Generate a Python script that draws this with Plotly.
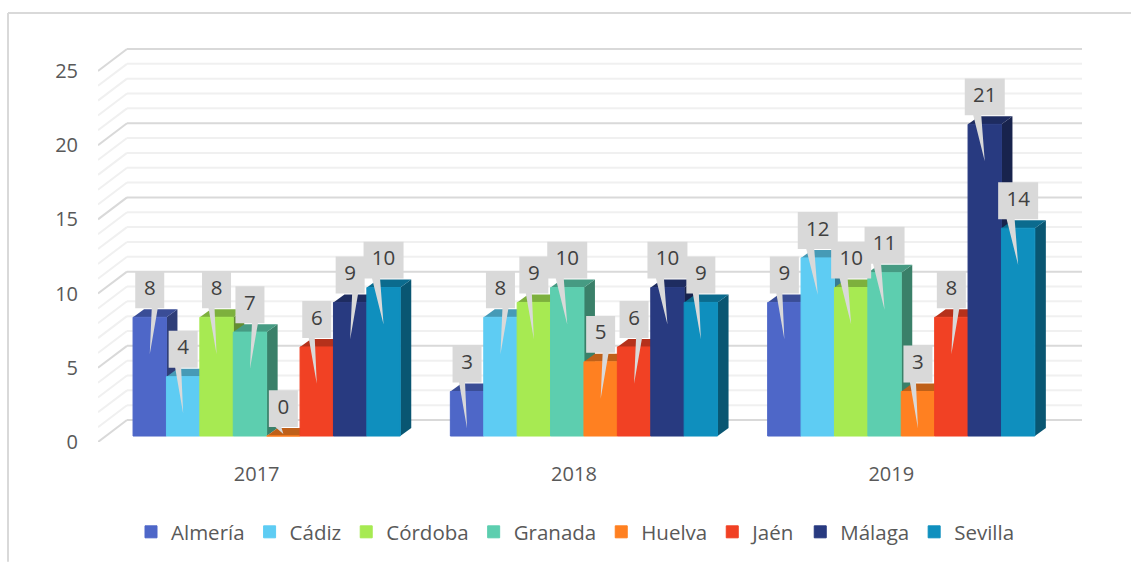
import plotly.graph_objects as go

# ---------- data ----------
years = ["2017", "2018", "2019"]
provinces = ["Almería", "Cádiz", "Córdoba", "Granada", "Huelva", "Jaén", "Málaga", "Sevilla"]
almeria = [8, 3, 9]
cadiz = [4, 8, 12]
cordoba = [8, 9, 10]
granada = [7, 10, 11]
huelva = [0, 5, 3]
jaen = [6, 6, 8]
malaga = [9, 10, 21]
sevilla = [10, 9, 14]
series = [almeria, cadiz, cordoba, granada, huelva, jaen, malaga, sevilla]

# ---------- styles ----------
front = ["#4E67C8", "#5ECCF3", "#A7EA52", "#5DCEAF", "#FF8021", "#F14124", "#283A80", "#0F8FBE"]
top_c = ["#3A4D96", "#469AB6", "#7DB03D", "#469B83", "#BF6019", "#B5311B", "#1E2C60", "#0B6B8E"]
side_c = ["#2F3E78", "#387B92", "#648D31", "#3A8069", "#994D14", "#912716", "#18234D", "#095672"]
# which side of the bar centre each callout pointer leaves its box (one row per year)
pointer_side = [
    [1, -1, -1, 1, -1, -1, 1, -1],
    [-1, 1, -1, -1, 1, 1, -1, -1],
    [-1, -1, -1, -1, -1, 1, -1, -1],
]
FONT = "Open Sans"
TICK = "#595959"
LABEL = "#404040"
BOX = "#D9D9D9"

# ---------- geometry: pixel scales of the two axes ----------
W, H = 1131, 563
LEFT, RIGHT, TOP, BOTTOM = 98, 1082, 44, 443
PX_Y = 14.88      # px per value unit
PX_X = 33.4       # px per bar width
xr = (RIGHT - LEFT) / PX_X
yr = (BOTTOM - TOP) / PX_Y
ux = lambda p: p / PX_X
uy = lambda p: p / PX_Y
WALL_DX, WALL_DY = ux(29), uy(22)
BAR_SHIFT_X, BAR_BASE = ux(10), uy(6)
BAR_DX, BAR_DY = ux(11), uy(8)
GROUP_STEP, GROUP_GAP = 9.5, 0.75

shapes = []


def path(points):
    return "M" + " L".join(f"{a:.4f},{b:.4f}" for a, b in points) + " Z"


# walls: grid lines every unit, heavier every five
for v in range(0, 26):
    major = v % 5 == 0
    col = "#D9D9D9" if major else "#F0F0F0"
    style = dict(type="line", xref="x", yref="y", layer="below", line=dict(color=col, width=2))
    shapes.append(dict(style, x0=0, y0=v, x1=WALL_DX, y1=v + WALL_DY))
    shapes.append(dict(style, x0=WALL_DX, y0=v + WALL_DY, x1=xr, y1=v + WALL_DY))

# chart frame
fx = lambda p: (p - LEFT) / (RIGHT - LEFT)
fy = lambda p: (BOTTOM - p) / (BOTTOM - TOP)
frame = dict(type="line", xref="paper", yref="paper", layer="below", line=dict(color="#D9D9D9", width=2))
shapes.append(dict(frame, x0=fx(8), y0=fy(13), x1=fx(W), y1=fy(13)))
shapes.append(dict(frame, x0=fx(8), y0=fy(13), x1=fx(8), y1=fy(H)))


def bar_left(g, i):
    return g * GROUP_STEP + GROUP_GAP + BAR_SHIFT_X + i


# 3D faces of the bars
for g in range(len(years)):
    for i, vals in enumerate(series):
        xl, xrt = bar_left(g, i), bar_left(g, i) + 1
        b, t = BAR_BASE, BAR_BASE + vals[g]
        shapes.append(dict(type="path", xref="x", yref="y", layer="below", line=dict(width=0),
                           fillcolor=side_c[i],
                           path=path([(xrt, b), (xrt + BAR_DX, b + BAR_DY), (xrt + BAR_DX, t + BAR_DY), (xrt, t)])))
        shapes.append(dict(type="path", xref="x", yref="y", layer="below", line=dict(width=0),
                           fillcolor=top_c[i],
                           path=path([(xl, t), (xl + BAR_DX, t + BAR_DY), (xrt + BAR_DX, t + BAR_DY), (xrt, t)])))

fig = go.Figure()

# front faces
for i, (name, vals) in enumerate(zip(provinces, series)):
    fig.add_trace(go.Bar(
        name=name,
        x=[bar_left(g, i) + 0.5 for g in range(len(years))],
        y=vals,
        base=BAR_BASE,
        width=1,
        marker=dict(color=front[i], line=dict(color=front[i], width=1)),
        hoverinfo="skip",
    ))

# callouts
lab_x, lab_y, lab_t = [], [], []
for g in range(len(years)):
    for i, vals in enumerate(series):
        v = vals[g]
        cx = bar_left(g, i) + 0.5
        t = BAR_BASE + v
        two = v >= 10
        hw = ux(20 if two else 14.5)
        y0, y1 = t + uy(9), t + uy(46)
        s = pointer_side[g][i]
        if s > 0:
            b0, b1 = cx + ux(2), cx + ux(8)
        elif two:
            b0, b1 = cx - ux(11.5), cx - ux(3.5)
        else:
            b0, b1 = cx - ux(8), cx - ux(2)
        tip_y = max(t - uy(37), BAR_BASE + uy(2))
        px = [cx - hw, cx - hw, cx + hw, cx + hw, b1, cx, b0, cx - hw]
        py = [y0, y1, y1, y0, y0, tip_y, y0, y0]
        fig.add_trace(go.Scatter(x=px, y=py, mode="lines", fill="toself", fillcolor=BOX,
                                 line=dict(width=0, color=BOX), showlegend=False, hoverinfo="skip"))
        lab_x.append(cx)
        lab_y.append((y0 + y1) / 2)
        lab_t.append(str(v))

fig.add_trace(go.Scatter(x=lab_x, y=lab_y, text=lab_t, mode="text", textposition="middle center",
                         textfont=dict(family=FONT, size=20.5, color=LABEL), showlegend=False, hoverinfo="skip"))

fig.update_layout(
    width=W, height=H,
    autosize=False,
    margin=dict(l=LEFT, r=W - RIGHT, t=TOP, b=H - BOTTOM, pad=0),
    paper_bgcolor="white",
    plot_bgcolor="white",
    barmode="overlay",
    font=dict(family=FONT, size=20, color=TICK),
    shapes=shapes,
    showlegend=True,
    legend=dict(orientation="h", x=fx(131), xanchor="left", y=fy(532), yanchor="middle",
                font=dict(family=FONT, size=20.5, color=TICK), bgcolor="rgba(0,0,0,0)",
                traceorder="normal", itemclick=False, itemdoubleclick=False),
    xaxis=dict(range=[0, xr], showgrid=False, zeroline=False, showline=False, ticks="",
               tickmode="array",
               tickvals=[(g + 0.5) * GROUP_STEP for g in range(len(years))],
               ticktext=years, tickangle=0, ticklabelstandoff=18,
               tickfont=dict(family=FONT, size=20, color=TICK), fixedrange=True),
    yaxis=dict(range=[0, yr], showgrid=False, zeroline=False, showline=False, ticks="",
               tickmode="array", tickvals=[0, 5, 10, 15, 20, 25], ticklabelstandoff=19,
               tickfont=dict(family=FONT, size=20, color=TICK), fixedrange=True),
)

fig.write_html("out.html", config=dict(displayModeBar=False),
               post_script="document.body.style.margin='0';document.body.style.overflow='hidden';")
